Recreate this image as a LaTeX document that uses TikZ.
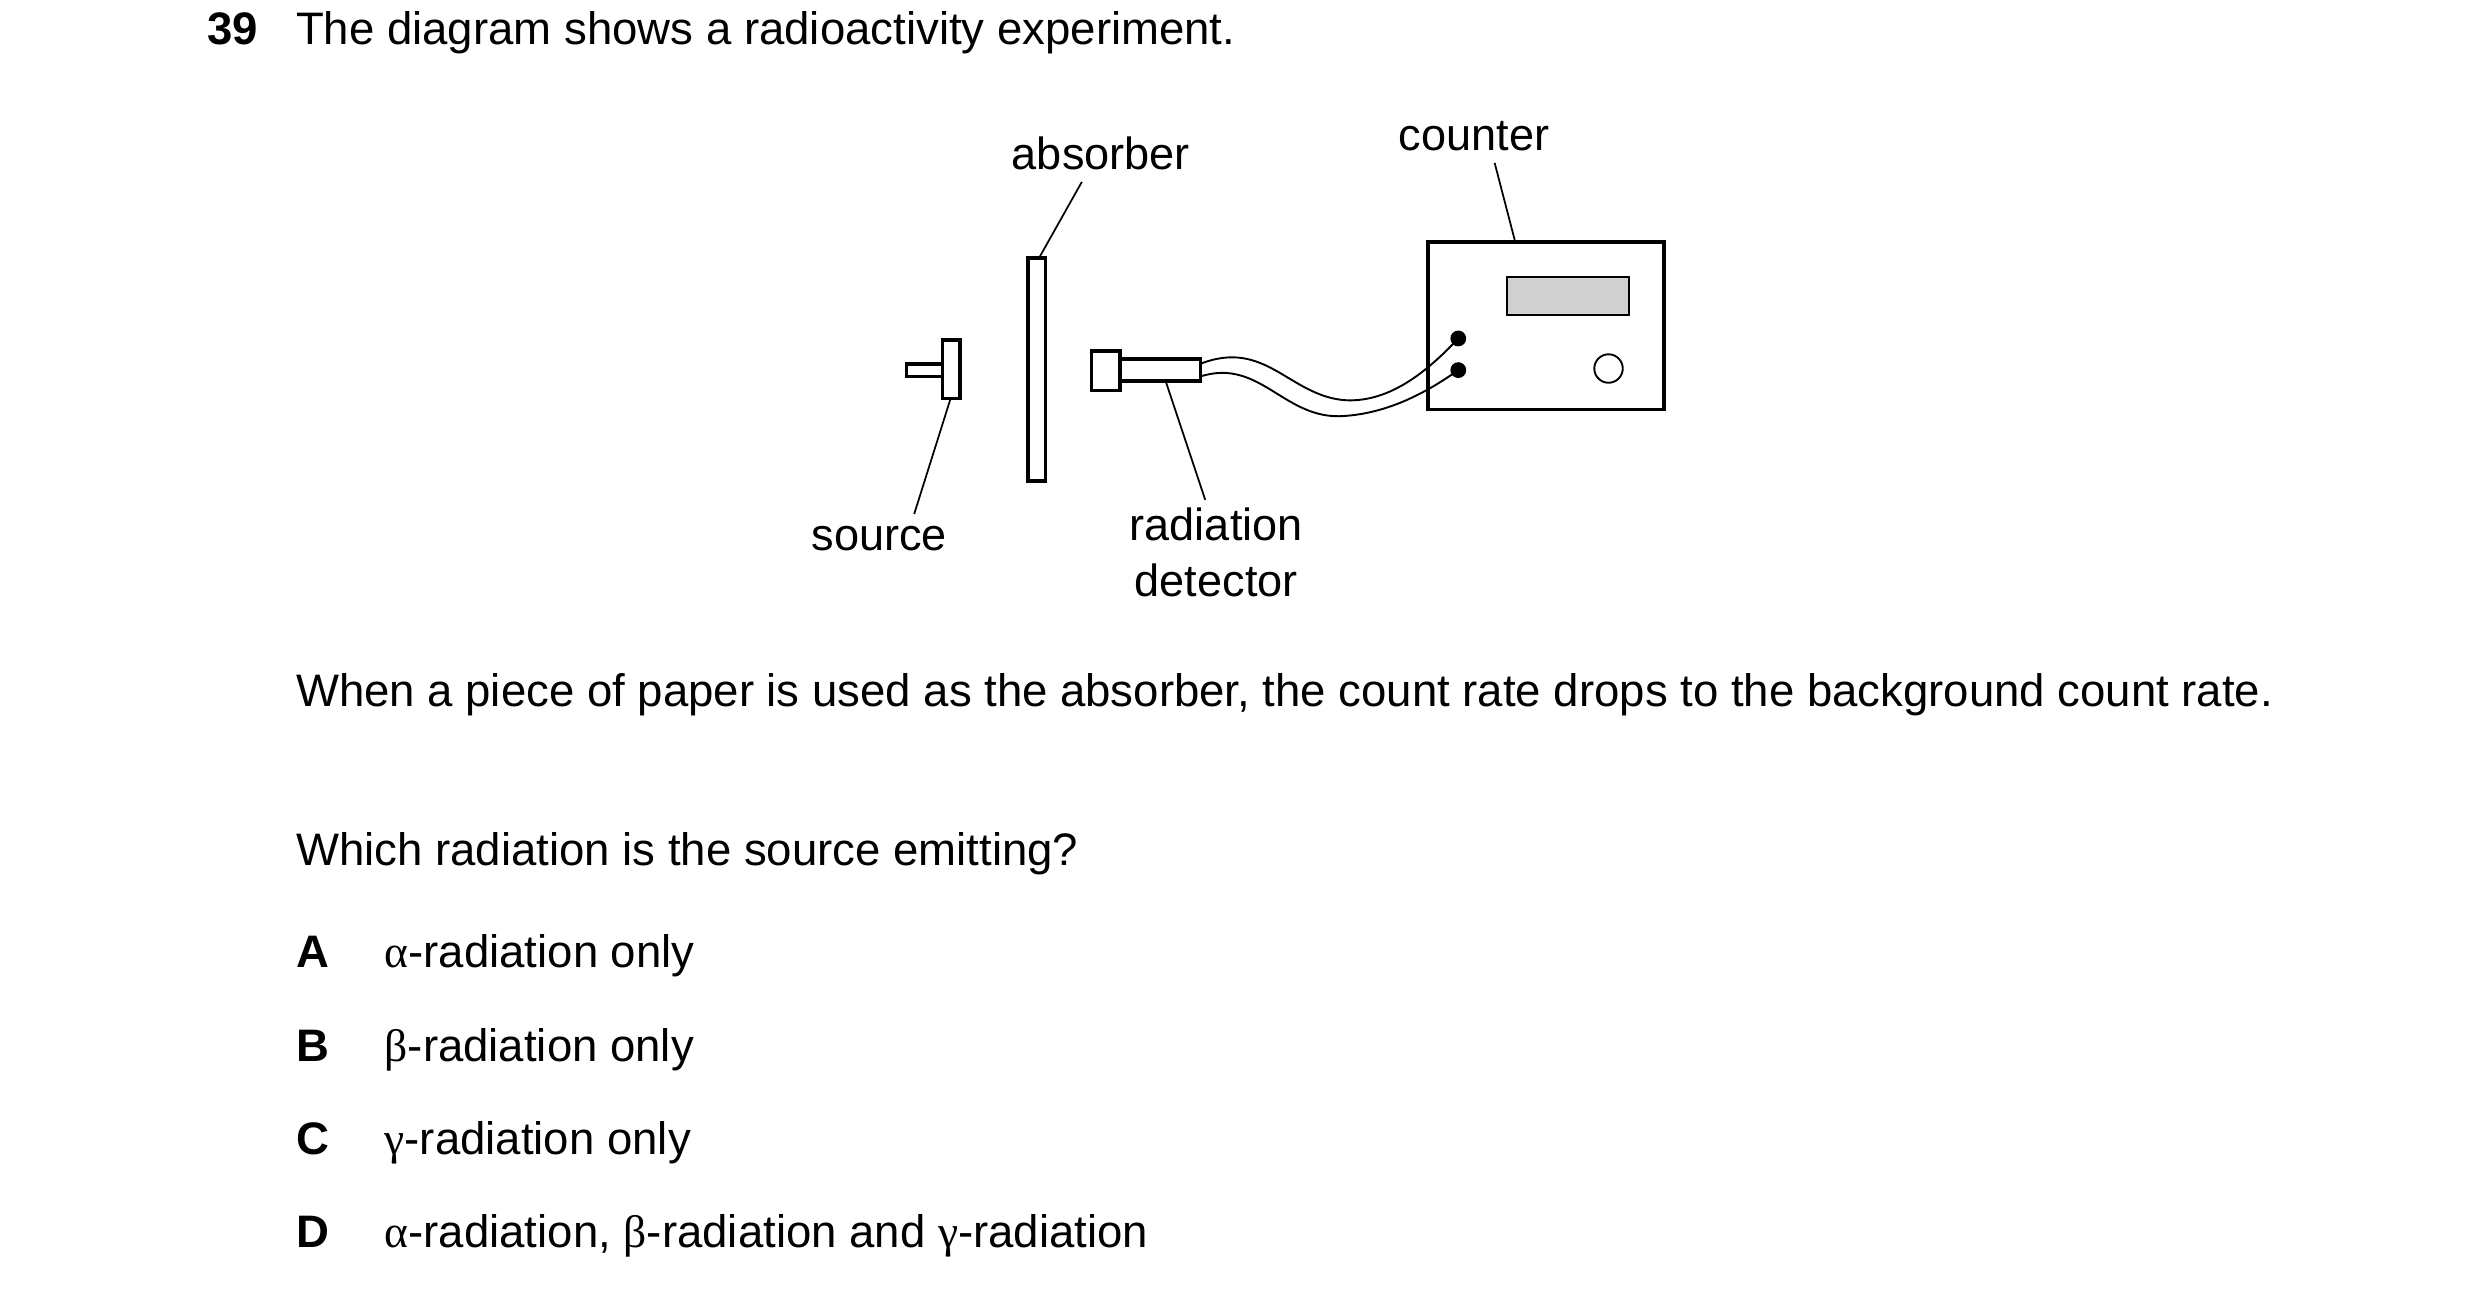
\documentclass[tikz,border=0pt]{standalone}
\usepackage{fontspec}
\setmainfont{Liberation Sans}
\newfontfamily\grk{Liberation Serif}
\begin{document}
\begin{tikzpicture}[x=1pt,y=-1pt,
  txt/.style={inner sep=0pt,anchor=base west,font=\fontsize{28.8}{32}\selectfont},
  lbl/.style={inner sep=0pt,anchor=base,font=\fontsize{28.5}{32}\selectfont},
  part/.style={draw,line width=2.2pt,fill=white},
  lead/.style={line width=1.1pt}]
\useasboundingbox (0,0) rectangle (1568,821);
\node[txt,font=\fontsize{28.8}{32}\selectfont\bfseries] (num) at (131,28) {39};
\node[txt] (title) at (187,28) {The diagram shows a radioactivity experiment.};
% labels
\node[lbl] (labs) at (696,107) {absorber};
\node[lbl] (lcnt) at (932,95) {counter};
\node[lbl] (lsrc) at (556,348) {source};
\node[lbl] (lrad) at (769,342) {radiation};
\node[lbl] (ldet) at (769,377) {detector};
% absorber
\draw[part] (650,163) rectangle (661,304);
\coordinate (absT) at (657,163);
% source
\draw[part] (573,230) rectangle (596,238);
\draw[part] (596,215) rectangle (607,252);
\coordinate (srcB) at (601,252);
% detector
\draw[part] (708,227) rectangle (759,241);
\draw[part] (690,222) rectangle (708,247);
\coordinate (detB) at (737,241);
% counter
\draw[part] (903,153) rectangle (1052,259);
\coordinate (cntT) at (958,153);
\draw[line width=1.4pt,fill=black!18] (953,175) rectangle (1030,199);
\draw[line width=1.2pt] (1017,233) circle (9);
\fill (922,214) circle (5);
\fill (922,234) circle (5);
% wires
\draw[line width=1.2pt] (759,230) .. controls (800,214) and (815,250) .. (850,253) .. controls (880,255) and (905,232) .. (922,214);
\draw[line width=1.2pt] (759,238) .. controls (797,226) and (812,266) .. (850,263) .. controls (880,261) and (905,246) .. (922,234);
% leaders
\draw[lead] (684,115) -- (absT);
\draw[lead] (945,103) -- (cntT);
\draw[lead] (578,325) -- (srcB);
\draw[lead] (762,316) -- (detB);
% question text
\node[txt,text width=1250pt,align=justify,anchor=base west] (para) at (187,447) {When a piece of paper is used as the absorber, the count rate drops to the background count rate.};
\node[txt] (q) at (187,547) {Which radiation is the source emitting?};
\node[txt,font=\fontsize{28.8}{32}\selectfont\bfseries] (A) at (187,612) {A};
\node[txt] (a) at (243,612) {{\grk α}-radiation only};
\node[txt,font=\fontsize{28.8}{32}\selectfont\bfseries] (B) at (187,671) {B};
\node[txt] (b) at (243,671) {{\grk β}-radiation only};
\node[txt,font=\fontsize{28.8}{32}\selectfont\bfseries] (C) at (187,730) {C};
\node[txt] (c) at (243,730) {{\grk γ}-radiation only};
\node[txt,font=\fontsize{28.8}{32}\selectfont\bfseries] (D) at (187,789) {D};
\node[txt] (d) at (243,789) {{\grk α}-radiation, {\grk β}-radiation and {\grk γ}-radiation};
\end{tikzpicture}
\end{document}
